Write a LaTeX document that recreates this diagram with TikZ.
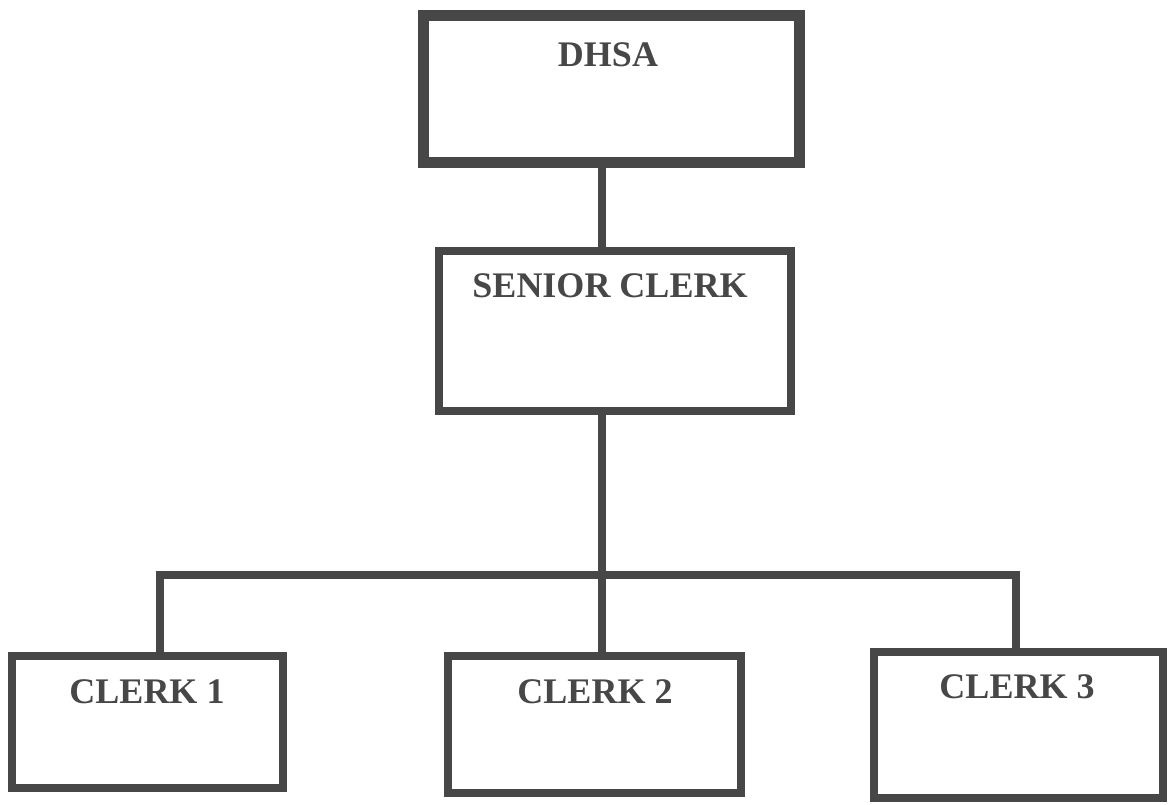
\documentclass[tikz,border=0pt]{standalone}
\usepackage{fontspec}
\setmainfont{Liberation Serif}
\usetikzlibrary{positioning}
\definecolor{ink}{HTML}{474747}
\tikzset{box/.style={draw=ink,line width=8pt,inner sep=0pt},
 hd/.style={box,line width=11pt},
 wire/.style={draw=ink,line width=7.5pt},
 txt/.style={text=ink,inner sep=0pt,font=\fontsize{36}{40}\selectfont\bfseries}}

\begin{document}
\begin{tikzpicture}[x=1pt,y=-1pt]
\useasboundingbox (0,0) rectangle (1173,804);
\node[hd,minimum width=376pt,minimum height=147pt](dhsa) at (611.5,89){};
\node[box,minimum width=352pt,minimum height=160pt](senior) at (615,331){};
\node[box,minimum width=271pt,minimum height=132pt](c1) at (147.5,722){};
\node[box,minimum width=293pt,minimum height=137pt](c2) at (594.5,724.5){};
\node[box,minimum width=289pt,minimum height=146pt](c3) at (1018.5,725){};
\node[txt](tdhsa) at (608,55){DHSA};\node[txt](tsenior) at (610,286){SENIOR CLERK};
\node[txt](tc1) at (147,692){CLERK 1};\node[txt](tc2) at (595,692){CLERK 2};
\node[txt](tc3) at (1017,687){CLERK 3};
\coordinate (j) at (602,575);\coordinate (jl) at (160,575);\coordinate (jr) at (1016,575);
\draw[wire](dhsa.south -| j)--(senior.north -| j);\draw[wire](senior.south -| j)--(j);
\draw[wire](c1.north -| jl)--(jl)--(jr)--(c3.north -| jr);\draw[wire](j)--(c2.north -| j);
\end{tikzpicture}
\end{document}
